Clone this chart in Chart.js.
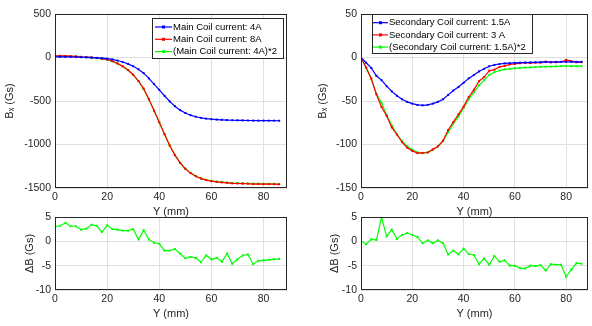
<!DOCTYPE html>
<html>
<head>
<meta charset="UTF-8">
<title>Bx main / secondary coil</title>
<script src="https://cdn.jsdelivr.net/npm/chart.js"></script>
<style>
body{margin:0;background:#fff;}
#wrap{position:relative;width:592px;height:326px;}
canvas{position:absolute;left:0;top:0;}
</style>
</head>
<body>
<div id="wrap">
	<canvas id="mainTop" width="592" height="326"></canvas>
	<canvas id="secTop" width="592" height="326"></canvas>
	<canvas id="mainDiff" width="592" height="326"></canvas>
	<canvas id="secDiff" width="592" height="326"></canvas>
</div>
<script>
// Y position (mm)
const ypos = [0,2,4,6,8,10,12,14,16,18,20,22,24,26,28,30,32,34,36,38,40,42,44,46,48,50,52,54,56,58,60,62,64,66,68,70,72,74,76,78,80,82,84,86];

// main coil, Bx (Gs)
const main4A = [8,8,7,6,5,3,1,-1,-4,-8,-13,-22,-35,-52,-73,-100,-135,-180,-240,-305,-372,-440,-505,-560,-605,-638,-663,-681,-694,-703,-709,-713,-716,-719,-721,-722,-723,-724,-725,-725,-726,-726,-726,-727];
const main8A = [19,19,18,15,13,8,5,1,-5,-14,-23,-42,-68,-102,-144,-198,-270,-358,-480,-610,-745,-882,-1012,-1122,-1212,-1280,-1329,-1365,-1392,-1409,-1422,-1429,-1436,-1441,-1447,-1448,-1449,-1451,-1455,-1454,-1456,-1456,-1456,-1458];
const main4Ax2 = [16,16,14,12,10,6,2,-2,-8,-16,-26,-44,-70,-104,-146,-200,-270,-360,-480,-610,-744,-880,-1010,-1120,-1210,-1276,-1326,-1362,-1388,-1406,-1418,-1426,-1432,-1438,-1442,-1444,-1446,-1448,-1450,-1450,-1452,-1452,-1452,-1454];
const mainDelta = [3.0,3.2,3.8,3.1,3.1,2.4,2.6,3.4,3.2,1.9,3.3,2.5,2.4,2.2,2.2,2.5,0.4,2.3,0.4,-0.3,-0.5,-1.9,-1.9,-1.6,-2.5,-3.5,-3.2,-3.4,-4.3,-2.9,-3.7,-3.4,-4.2,-2.5,-4.6,-3.7,-2.9,-2.7,-4.7,-4.0,-3.9,-3.8,-3.7,-3.6];

// secondary coil, Bx (Gs)
const sec15A = [0,-6,-12,-21,-26,-33,-39,-44,-48,-51,-53,-54.5,-55,-54.5,-53,-51,-48,-43,-38,-34,-29,-24,-20,-16,-13,-10,-8.5,-7.5,-6.8,-6.5,-6.2,-6,-5.8,-5.7,-5.5,-5.4,-5.3,-5.2,-5.1,-5,-5,-5,-5,-5];
const sec3A = [-0.1,-11.4,-24.4,-42.3,-56.9,-67,-80.4,-88.5,-97.3,-103.7,-107.3,-109.9,-109.6,-109.2,-105.6,-102.2,-95.6,-83.3,-74.1,-65.3,-56.5,-45.4,-37.2,-27.3,-22.5,-15.2,-14,-10.8,-9.7,-8,-7.4,-6.5,-6,-6.4,-5.9,-5.9,-4.6,-5.7,-5.4,-5.2,-2.7,-4.2,-5.5,-5.4];
const sec15Ax2 = [0,-12,-24,-42,-52,-66,-78,-88,-96,-102,-106,-109,-110,-109,-106,-102,-96,-86,-76,-68,-58,-48,-40,-32,-26,-20,-17,-15,-13.6,-13,-12.4,-12,-11.6,-11.4,-11,-10.8,-10.6,-10.4,-10.2,-10,-10,-10,-10,-10];
const secDelta = [0.1,-0.6,0.4,0.3,4.9,1.0,2.4,0.5,1.3,1.7,1.3,0.9,-0.4,0.2,-0.4,0.2,-0.4,-2.7,-1.9,-2.7,-1.5,-2.6,-2.8,-4.7,-3.5,-4.8,-3.0,-4.2,-3.9,-5.0,-5.0,-5.5,-5.6,-5.0,-5.1,-4.9,-6.0,-4.7,-4.8,-4.8,-7.3,-5.8,-4.5,-4.6];

// tick labels
const xTicks = [0,20,40,60,80];
const mainTicks = [-1500,-1000,-500,0,500];
const secTicks = [-150,-100,-50,0,50];
const deltaTicks = [-10,-5,0,5];

const FONT = "'Liberation Sans', Arial, Helvetica, sans-serif";
const INK = '#262626';

const framePlugin = {
	id: 'frame',
	afterDatasetsDraw(chart, args, opts) {
		const a = chart.chartArea, ctx = chart.ctx;
		ctx.save();
		ctx.strokeStyle = INK;
		ctx.lineWidth = 1;
		ctx.strokeRect(Math.round(a.left) + 0.5, Math.round(a.top) + 0.5,
			Math.round(a.right - a.left) - 1, Math.round(a.bottom - a.top) - 1);
		const lg = opts.legend;
		if (lg) {
			ctx.fillStyle = '#fff';
			ctx.fillRect(lg.x, lg.y, lg.w, lg.h);
			ctx.strokeRect(lg.x + 0.5, lg.y + 0.5, lg.w - 1, lg.h - 1);
			ctx.font = '9.5px ' + FONT;
			ctx.textBaseline = 'middle';
			chart.data.datasets.forEach(function(ds, i) {
				const y = lg.row0 + i * lg.rowH;
				ctx.strokeStyle = ds.borderColor;
				ctx.lineWidth = 1.2;
				ctx.beginPath();
				ctx.moveTo(lg.l0, y);
				ctx.lineTo(lg.l1, y);
				ctx.stroke();
				ctx.fillStyle = ds.borderColor;
				ctx.fillRect((lg.l0 + lg.l1) / 2 - 1.5, y - 1.5, 3, 3);
				ctx.fillStyle = '#000';
				ctx.fillText(ds.label, lg.tx, y);
			});
		}
		ctx.restore();
	}
};

function series(label, vals, color) {
	return {
		label: label,
		data: ypos.map(function(x, i) { return {x: x, y: vals[i]}; }),
		borderColor: color,
		backgroundColor: color,
		borderWidth: 1.2,
		pointRadius: 1.4,
		pointBorderWidth: 0,
		pointStyle: 'rect',
		tension: 0
	};
}

function plain(v) { return String(v); }

function newChart(id, datasets, yTicks, yTitle, xMax, area, legend) {
	const W = 592, H = 326;
	const yW = area.yW, xH = 31;
	return new Chart(document.getElementById(id), {
		type: 'line',
		data: { datasets: datasets },
		options: {
			responsive: false,
			animation: false,
			events: [],
			layout: {
				padding: {
					left: area.left - yW,
					right: W - area.right,
					top: area.top,
					bottom: H - area.bottom - xH
				}
			},
			plugins: {
				legend: { display: false },
				tooltip: { enabled: false },
				frame: { legend: legend }
			},
			scales: {
				x: {
					type: 'linear',
					min: 0,
					max: xMax,
					afterBuildTicks: function(s) { s.ticks = xTicks.map(function(v) { return {value: v}; }); },
					afterFit: function(s) { s.height = xH; },
					grid: { color: '#e0e0e0', drawTicks: false },
					border: { display: false },
					ticks: { color: INK, font: { family: FONT, size: 10.5 }, padding: 3, maxRotation: 0, callback: plain },
					title: { display: true, text: 'Y (mm)', color: INK, font: { family: FONT, size: 11 }, padding: 0 }
				},
				y: {
					min: yTicks[0],
					max: yTicks[yTicks.length - 1],
					afterBuildTicks: function(s) { s.ticks = yTicks.map(function(v) { return {value: v}; }); },
					afterFit: function(s) { s.width = yW; },
					grid: { color: '#e0e0e0', drawTicks: false },
					border: { display: false },
					ticks: { color: INK, font: { family: FONT, size: 10.5 }, padding: 4, callback: plain },
					title: { display: true, text: yTitle, color: INK, font: { family: FONT, size: 11 }, padding: 0 }
				}
			}
		},
		plugins: [framePlugin]
	});
}

newChart('mainTop', [
	series('Main Coil current: 4A', main4A, '#0000ff'),
	series('Main Coil current: 8A', main8A, '#ff0000'),
	series('(Main Coil current: 4A)*2', main4Ax2, '#00ff00')
], mainTicks, 'Bₓ (Gs)', 89,
	{left: 55, right: 287, top: 14, bottom: 188, yW: 52},
	{x: 152, y: 18, w: 132, h: 41, row0: 27, rowH: 12.3, l0: 155, l1: 172, tx: 173});

newChart('secTop', [
	series('Secondary Coil current: 1.5A', sec15A, '#0000ff'),
	series('Secondary Coil current: 3 A', sec3A, '#ff0000'),
	series('(Secondary Coil current: 1.5A)*2', sec15Ax2, '#00ff00')
], secTicks, 'Bₓ (Gs)', 88.5,
	{left: 361, right: 591, top: 14, bottom: 188, yW: 45},
	{x: 372, y: 14, w: 161, h: 40, row0: 22.7, rowH: 12.2, l0: 373, l1: 388, tx: 389});

newChart('mainDiff', [
	series('ΔB main', mainDelta, '#00ff00')
], deltaTicks, 'ΔB (Gs)', 89,
	{left: 55, right: 287, top: 217, bottom: 290, yW: 32}, null);

newChart('secDiff', [
	series('ΔB secondary', secDelta, '#00ff00')
], deltaTicks, 'ΔB (Gs)', 88.5,
	{left: 361, right: 591, top: 217, bottom: 290, yW: 33}, null);
</script>
</body>
</html>
